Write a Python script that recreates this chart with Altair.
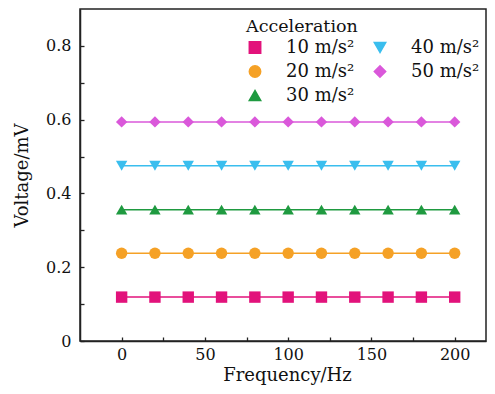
import altair as alt
import pandas as pd

# ---- data ----
frequency = [0, 20, 40, 60, 80, 100, 120, 140, 160, 180, 200]
series = ["10 m/s²", "20 m/s²", "30 m/s²", "40 m/s²", "50 m/s²"]
voltage = [0.119, 0.238, 0.356, 0.475, 0.594]

x_major = [0, 50, 100, 150, 200]
x_minor = [25, 75, 125, 175]
y_major = [0, 0.2, 0.4, 0.6, 0.8]
y_minor = [0.1, 0.3, 0.5, 0.7]

# ---- style ----
colors = ["#E2127B", "#F5A126", "#1F9A40", "#3ABEEE", "#DA58DA"]
shapes = ["square", "circle", "triangle-up", "triangle-down", "diamond"]
FONT = "DejaVu Serif"
W, H = 406, 332
AX = "#222222"

rows = [
    {"Frequency": f, "Acceleration": s, "Voltage": v}
    for s, v in zip(series, voltage)
    for f in frequency
]
df = pd.DataFrame(rows)

xscale = alt.Scale(domain=[-25, 218.8], nice=False, zero=False)
yscale = alt.Scale(domain=[0, 0.9], nice=False, zero=False)
cscale = alt.Scale(domain=series, range=colors)
sscale = alt.Scale(domain=series, range=shapes)

legend = alt.Legend(
    title="Acceleration",
    orient="none",
    legendX=166,
    legendY=9,
    columns=2,
    direction="vertical",
    columnPadding=16,
    rowPadding=6,
    symbolSize=130,
    labelOffset=22,
    titleFont=FONT,
    titleFontSize=17.5,
    titleFontWeight="normal",
    titleColor="#111",
    titlePadding=3,
    labelFont=FONT,
    labelFontSize=18,
    labelColor="#111",
)

x_label_expr = "indexof(%s, datum.value) >= 0 ? datum.label : ''" % x_major
y_label_expr = "indexof(%s, datum.value) >= 0 ? datum.label : ''" % y_major

x_main = alt.X(
    "Frequency:Q",
    scale=xscale,
    axis=alt.Axis(
        values=x_major + x_minor, labelExpr=x_label_expr, title="Frequency/Hz",
        ticks=True, tickSize={"expr": "-4"}, tickColor=AX, tickWidth=1.3,
        domain=True, domainColor=AX, domainWidth=1.5,
        labelFont=FONT, labelFontSize=16, labelColor="#111", labelPadding=9,
        titleFont=FONT, titleFontSize=18, titleFontWeight="normal", titleColor="#111",
        titlePadding=4, titleX=207, grid=False, labelFlush=False,
    ),
)
y_main = alt.Y(
    "Voltage:Q",
    scale=yscale,
    axis=alt.Axis(
        values=y_major + y_minor, format="~g", labelExpr=y_label_expr, title="Voltage/mV",
        ticks=True, tickSize={"expr": "-4"}, tickColor=AX, tickWidth=1.3,
        domain=True, domainColor=AX, domainWidth=1.5,
        labelFont=FONT, labelFontSize=16, labelColor="#111", labelPadding=13,
        titleFont=FONT, titleFontSize=18, titleFontWeight="normal", titleColor="#111",
        titlePadding=14, grid=False, labelFlush=False,
    ),
)

lines = alt.Chart(df).mark_line(strokeWidth=1.5).encode(
    x=x_main, y=y_main,
    color=alt.Color("Acceleration:N", scale=cscale, legend=legend),
)

points = alt.Chart(df).mark_point(filled=True, size=130, opacity=1).encode(
    x=alt.X("Frequency:Q"),
    y=alt.Y("Voltage:Q"),
    color=alt.Color("Acceleration:N", scale=cscale, legend=legend),
    shape=alt.Shape("Acceleration:N", scale=sscale, legend=legend),
)

chart = (
    alt.layer(lines, points)
    .properties(width=W, height=H, padding={"left": 5, "top": 1, "right": 1, "bottom": 4})
    .configure_view(stroke=AX, strokeWidth=1.5)
)

chart.save("out.html", embed_options={"renderer": "svg", "actions": False})
